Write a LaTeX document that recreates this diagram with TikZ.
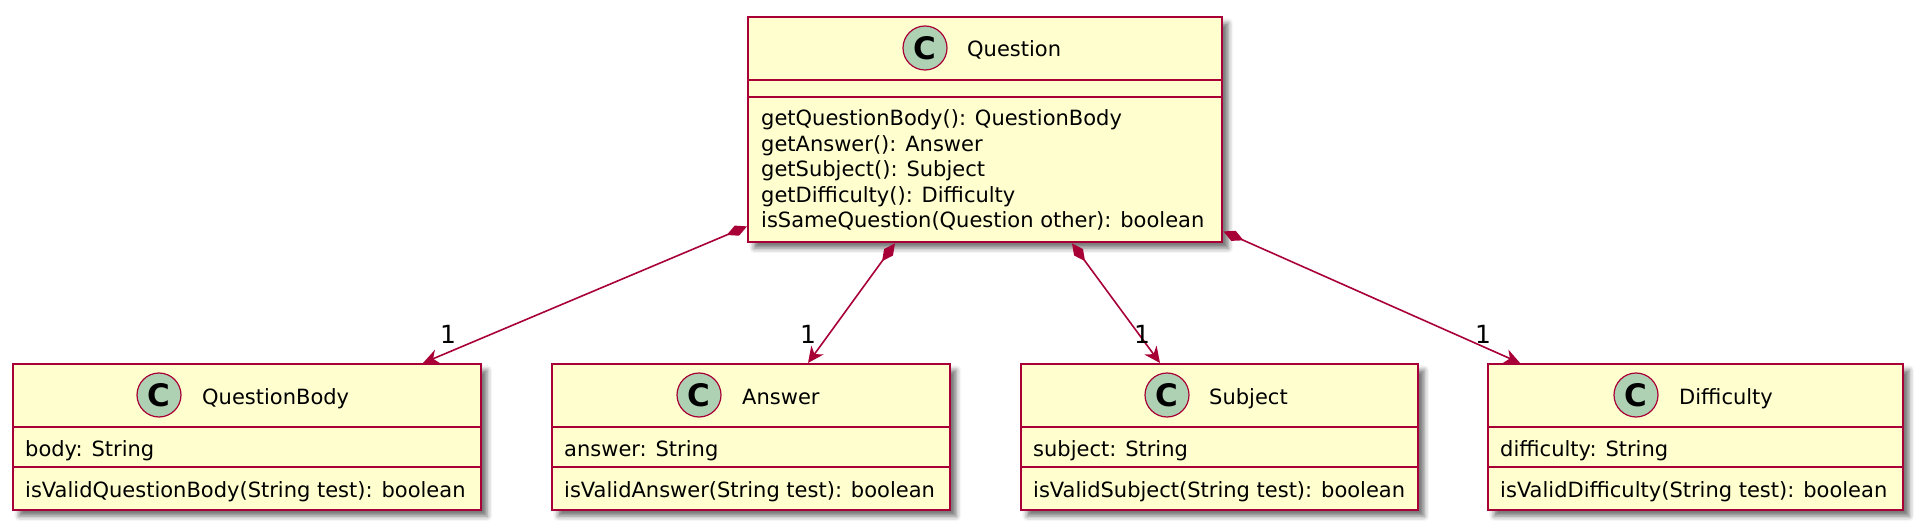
\documentclass[tikz,border=0pt]{standalone}
\usepackage{fontspec}
\setmainfont{DejaVu Sans}
\usetikzlibrary{arrows.meta,calc,shadows.blur}
\definecolor{umlborder}{HTML}{A80036}
\definecolor{umlfill}{HTML}{FEFECE}
\definecolor{umlcirc}{HTML}{ADD1B2}
\begin{document}
\begin{tikzpicture}[x=1pt,y=-1pt,
  cls/.style={draw=umlborder, fill=umlfill, line width=2.4pt, rectangle, inner sep=0pt, anchor=north west,
     blur shadow={shadow xshift=6pt, shadow yshift=-6pt, shadow blur radius=5pt, shadow opacity=55}},
  sepline/.style={draw=umlborder, line width=2.2pt},
  circ/.style={circle, draw=umlborder, fill=umlcirc, minimum size=44pt, inner sep=0pt, line width=1.2pt,
     font=\fontsize{31}{31}\selectfont\bfseries},
  ttl/.style={anchor=base west, inner sep=0pt, font=\fontsize{21}{25.5}\selectfont},
  txt/.style={anchor=base west, inner sep=0pt, font=\fontsize{21}{25.5}\selectfont},
  conn/.style={draw=umlborder, line width=1.6pt, {Diamond[length=22pt,width=11pt]}-{Stealth[length=16pt,width=15pt,inset=5pt]}},
  lab/.style={inner sep=0pt, font=\fontsize{25}{25}\selectfont}
]
\useasboundingbox (0,0) rectangle (1921,529);

% Question
\node[cls, minimum width=474pt, minimum height=225pt] (q) at (747,16) {};
\draw[sepline] ($(q.north west)+(0,64)$) -- ($(q.north east)+(0,64)$);
\draw[sepline] ($(q.north west)+(0,81)$) -- ($(q.north east)+(0,81)$);
\node[circ] (qc) at (925,48) {C};
\node[ttl] (qt) at (967,57) {Question};
\node[txt] (qm1) at (761,126) {getQuestionBody(): QuestionBody};
\node[txt] (qm2) at (761,151.5) {getAnswer(): Answer};
\node[txt] (qm3) at (761,177) {getSubject(): Subject};
\node[txt] (qm4) at (761,202.5) {getDifficulty(): Difficulty};
\node[txt] (qm5) at (761,228) {isSameQuestion(Question other): boolean};

% QuestionBody
\node[cls, minimum width=468pt, minimum height=146pt] (qb) at (12,363) {};
\draw[sepline] ($(qb.north west)+(0,64)$) -- ($(qb.north east)+(0,64)$);
\draw[sepline] ($(qb.north west)+(0,104)$) -- ($(qb.north east)+(0,104)$);
\node[circ] (qbc) at (159,395) {C};
\node[ttl] (qbt) at (202,404) {QuestionBody};
\node[txt] (qba) at (25,456) {body: String};
\node[txt] (qbm) at (25,497) {isValidQuestionBody(String test): boolean};

% Answer
\node[cls, minimum width=398pt, minimum height=146pt] (an) at (551,363) {};
\draw[sepline] ($(an.north west)+(0,64)$) -- ($(an.north east)+(0,64)$);
\draw[sepline] ($(an.north west)+(0,104)$) -- ($(an.north east)+(0,104)$);
\node[circ] (anc) at (699,395) {C};
\node[ttl] (ant) at (742,404) {Answer};
\node[txt] (ana) at (564,456) {answer: String};
\node[txt] (anm) at (564,497) {isValidAnswer(String test): boolean};

% Subject
\node[cls, minimum width=397pt, minimum height=146pt] (su) at (1020,363) {};
\draw[sepline] ($(su.north west)+(0,64)$) -- ($(su.north east)+(0,64)$);
\draw[sepline] ($(su.north west)+(0,104)$) -- ($(su.north east)+(0,104)$);
\node[circ] (suc) at (1167,395) {C};
\node[ttl] (sut) at (1209,404) {Subject};
\node[txt] (sua) at (1033,456) {subject: String};
\node[txt] (sum) at (1033,497) {isValidSubject(String test): boolean};

% Difficulty
\node[cls, minimum width=415pt, minimum height=146pt] (di) at (1487,363) {};
\draw[sepline] ($(di.north west)+(0,64)$) -- ($(di.north east)+(0,64)$);
\draw[sepline] ($(di.north west)+(0,104)$) -- ($(di.north east)+(0,104)$);
\node[circ] (dic) at (1636,395) {C};
\node[ttl] (dit) at (1679,404) {Difficulty};
\node[txt] (dia) at (1500,456) {difficulty: String};
\node[txt] (dim) at (1500,497) {isValidDifficulty(String test): boolean};

% connectors
\coordinate (e1) at ($(qb.north west)+(411,0)$);
\coordinate (e2) at ($(an.north west)+(257,0)$);
\coordinate (e3) at ($(su.north west)+(140,0)$);
\coordinate (e4) at ($(di.north west)+(33,0)$);
\draw[conn] ($(q.south west)+(0,-17)$) -- (e1);
\draw[conn] ($(q.south west)+(148,0)$) -- (e2);
\draw[conn] ($(q.south west)+(325,0)$) -- (e3);
\draw[conn] ($(q.south east)+(0,-12)$) -- (e4);
\node[lab] (l1) at ($(e1)+(25,-29)$) {1};
\node[lab] (l2) at ($(e2)+(0,-29)$) {1};
\node[lab] (l3) at ($(e3)+(-18,-29)$) {1};
\node[lab] (l4) at ($(e4)+(-37,-29)$) {1};
\end{tikzpicture}
\end{document}
